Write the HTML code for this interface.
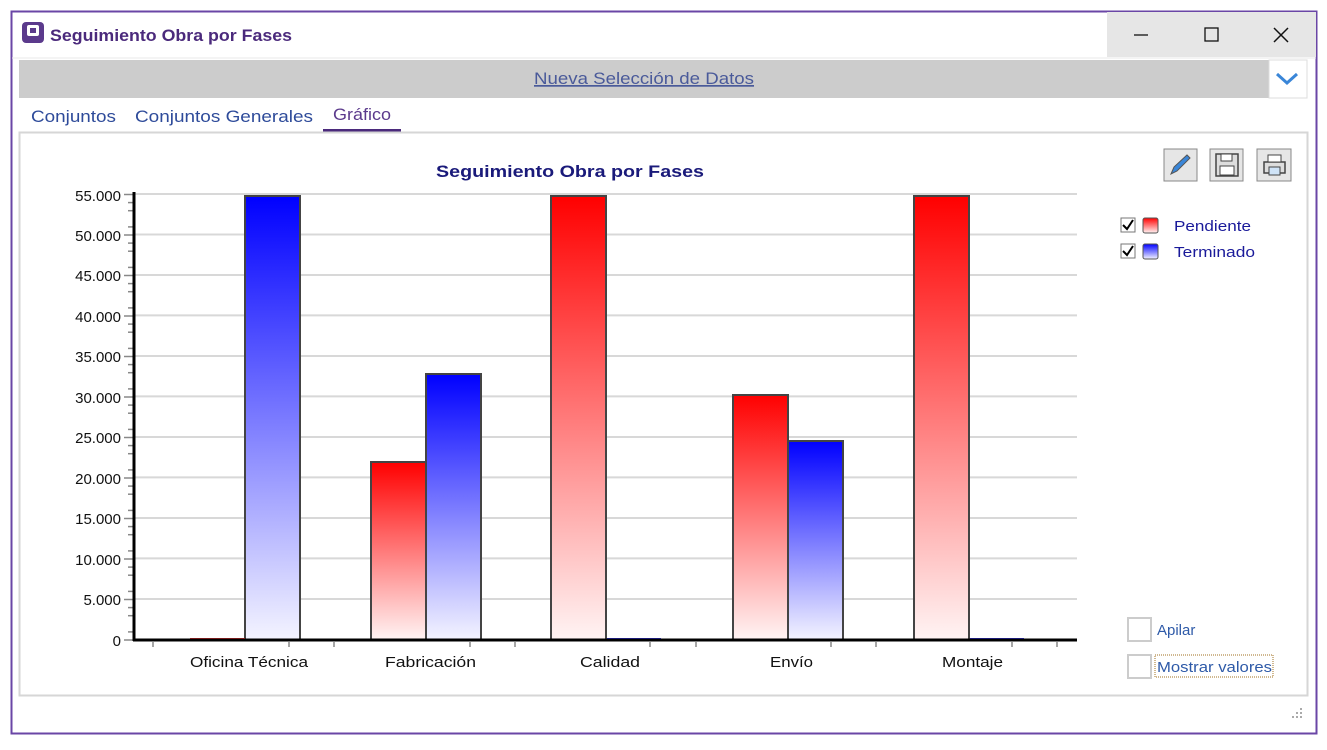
<!DOCTYPE html>
<html><head><meta charset="utf-8"><style>
body{margin:0;width:1327px;height:745px;background:#fff;font-family:"Liberation Sans",sans-serif;overflow:hidden}
</style></head><body>
<svg width="1327" height="745" xmlns="http://www.w3.org/2000/svg" font-family="Liberation Sans, sans-serif">
<defs>
<linearGradient id="r" x1="0" y1="0" x2="0" y2="1"><stop offset="0" stop-color="#ff0000"/><stop offset="1" stop-color="#fff4f4"/></linearGradient>
<linearGradient id="b" x1="0" y1="0" x2="0" y2="1"><stop offset="0" stop-color="#0000ff"/><stop offset="1" stop-color="#f4f4ff"/></linearGradient>
</defs>
<rect x="11.5" y="11.5" width="1305" height="722" fill="#fff" stroke="#6a46a6" stroke-width="2"/>
<rect x="1107" y="12" width="209" height="45" fill="#e6e6e6"/>
<rect x="22" y="22" width="22" height="21" rx="4" fill="#5b3a8c"/>
<rect x="27" y="25" width="12" height="11" rx="2" fill="#fff"/>
<rect x="30" y="28" width="6" height="5" fill="#5b3a8c"/>
<text x="50" y="41" font-size="17" font-weight="bold" fill="#4b2a7c" textLength="242" lengthAdjust="spacingAndGlyphs">Seguimiento Obra por Fases</text>
<line x1="1134" y1="35" x2="1148" y2="35" stroke="#111" stroke-width="1.3"/>
<rect x="1205" y="28" width="13" height="13" fill="none" stroke="#111" stroke-width="1.3"/>
<path d="M1274 28 L1288 42 M1288 28 L1274 42" stroke="#111" stroke-width="1.5"/>
<line x1="12" y1="58" x2="1316" y2="58" stroke="#e8e8e8"/>
<rect x="19" y="60" width="1250" height="38" fill="#cccccc"/>
<rect x="1269" y="60" width="38" height="38" fill="#fff" stroke="#ddd"/>
<path d="M1277 74 L1287 83 L1297 74" fill="none" stroke="#3a86d8" stroke-width="3"/>
<text x="534" y="84" font-size="17" fill="#4a5a9a" text-decoration="underline" textLength="220" lengthAdjust="spacingAndGlyphs">Nueva Selección de Datos</text>
<text x="31" y="122" font-size="17" fill="#2e4b9a" textLength="85" lengthAdjust="spacingAndGlyphs">Conjuntos</text>
<text x="135" y="122" font-size="17" fill="#2e4b9a" textLength="178" lengthAdjust="spacingAndGlyphs">Conjuntos Generales</text>
<text x="333" y="120" font-size="17" fill="#5b3a8c" textLength="58" lengthAdjust="spacingAndGlyphs">Gráfico</text>
<rect x="323" y="129" width="78" height="3" fill="#4b2a7c"/>
<rect x="19.5" y="132.5" width="1288" height="563" fill="#fff" stroke="#d6d6d6" stroke-width="2"/>
<g fill="#e6e6e6" stroke="#888"><rect x="1164" y="149" width="33" height="32"/><rect x="1210" y="149" width="33" height="32"/><rect x="1257" y="149" width="34" height="32"/></g>
<path d="M1171 174 L1174 167 L1187 155 L1190 158 L1177 171 Z" fill="#3a86d8" stroke="#555"/>
<rect x="1216" y="154" width="22" height="22" fill="#ddd" stroke="#444" stroke-width="1.5"/><rect x="1221" y="154" width="11" height="7" fill="#fff" stroke="#444"/><rect x="1220" y="166" width="14" height="9" fill="#fff" stroke="#444"/>
<rect x="1264" y="162" width="21" height="11" fill="#ddd" stroke="#444" stroke-width="1.5"/><rect x="1268" y="155" width="13" height="7" fill="#fff" stroke="#444"/><rect x="1269" y="167" width="11" height="8" fill="#cfe3f7" stroke="#444"/>
<text x="436" y="177" font-size="17" font-weight="bold" fill="#1a1a7a" textLength="268" lengthAdjust="spacingAndGlyphs">Seguimiento Obra por Fases</text>
<g stroke="#d8d8d8" stroke-width="2">
<line x1="134" y1="194" x2="1077" y2="194"/><line x1="134" y1="234.5" x2="1077" y2="234.5"/><line x1="134" y1="275" x2="1077" y2="275"/><line x1="134" y1="315.4" x2="1077" y2="315.4"/><line x1="134" y1="356" x2="1077" y2="356"/><line x1="134" y1="396.4" x2="1077" y2="396.4"/><line x1="134" y1="437" x2="1077" y2="437"/><line x1="134" y1="477.4" x2="1077" y2="477.4"/><line x1="134" y1="518" x2="1077" y2="518"/><line x1="134" y1="558.4" x2="1077" y2="558.4"/><line x1="134" y1="599" x2="1077" y2="599"/>
</g>
<g stroke="#888" stroke-width="1.5" id="ticks"></g>
<g font-size="15" fill="#111" text-anchor="end">
<text x="121" y="201">55.000</text><text x="121" y="241">50.000</text><text x="121" y="281">45.000</text><text x="121" y="322">40.000</text><text x="121" y="362">35.000</text><text x="121" y="403">30.000</text><text x="121" y="443">25.000</text><text x="121" y="484">20.000</text><text x="121" y="524">15.000</text><text x="121" y="565">10.000</text><text x="121" y="605">5.000</text><text x="121" y="646">0</text>
</g>
<g stroke="#444" stroke-width="2">
<rect x="245" y="196" width="55" height="444" fill="url(#b)"/>
<rect x="371" y="462" width="55" height="178" fill="url(#r)"/>
<rect x="426" y="374" width="55" height="266" fill="url(#b)"/>
<rect x="551" y="196" width="55" height="444" fill="url(#r)"/>
<rect x="733" y="395" width="55" height="245" fill="url(#r)"/>
<rect x="788" y="441" width="55" height="199" fill="url(#b)"/>
<rect x="914" y="196" width="55" height="444" fill="url(#r)"/>
</g>
<line x1="190" y1="639" x2="245" y2="639" stroke="#e33" stroke-width="2"/>
<line x1="607" y1="639" x2="661" y2="639" stroke="#33e" stroke-width="2"/>
<line x1="970" y1="639" x2="1024" y2="639" stroke="#33e" stroke-width="2"/>
<line x1="134" y1="192" x2="134" y2="641" stroke="#000" stroke-width="3"/>
<line x1="133" y1="640" x2="1077" y2="640" stroke="#000" stroke-width="3"/>
<g stroke="#888" stroke-width="1.5">
<line x1="153" y1="642" x2="153" y2="647"/><line x1="289" y1="642" x2="289" y2="647"/><line x1="334" y1="642" x2="334" y2="647"/><line x1="470" y1="642" x2="470" y2="647"/><line x1="515" y1="642" x2="515" y2="647"/><line x1="650" y1="642" x2="650" y2="647"/><line x1="696" y1="642" x2="696" y2="647"/><line x1="831" y1="642" x2="831" y2="647"/><line x1="876" y1="642" x2="876" y2="647"/><line x1="1012" y1="642" x2="1012" y2="647"/><line x1="1057" y1="642" x2="1057" y2="647"/>
</g>
<g font-size="15" fill="#111">
<text x="190" y="667" textLength="118" lengthAdjust="spacingAndGlyphs">Oficina Técnica</text><text x="385" y="667" textLength="91" lengthAdjust="spacingAndGlyphs">Fabricación</text><text x="580" y="667" textLength="60" lengthAdjust="spacingAndGlyphs">Calidad</text><text x="770" y="667" textLength="43" lengthAdjust="spacingAndGlyphs">Envío</text><text x="942" y="667" textLength="61" lengthAdjust="spacingAndGlyphs">Montaje</text>
</g>
<rect x="1121" y="218" width="14" height="14" fill="#fff" stroke="#777"/><path d="M1123 225 L1127 229 L1133 220" fill="none" stroke="#000" stroke-width="2"/>
<rect x="1143" y="218" width="15" height="15" rx="2" fill="url(#r)" stroke="#555"/>
<text x="1174" y="231" font-size="15" fill="#1a1a9a" textLength="77" lengthAdjust="spacingAndGlyphs">Pendiente</text>
<rect x="1121" y="244" width="14" height="14" fill="#fff" stroke="#777"/><path d="M1123 251 L1127 255 L1133 246" fill="none" stroke="#000" stroke-width="2"/>
<rect x="1143" y="244" width="15" height="15" rx="2" fill="url(#b)" stroke="#555"/>
<text x="1174" y="257" font-size="15" fill="#1a1a9a" textLength="81" lengthAdjust="spacingAndGlyphs">Terminado</text>
<rect x="1128" y="618" width="23" height="23" fill="#fff" stroke="#ccc" stroke-width="2"/>
<text x="1157" y="635" font-size="15" fill="#2e5aa8">Apilar</text>
<rect x="1128" y="655" width="23" height="23" fill="#fff" stroke="#ccc" stroke-width="2"/>
<rect x="1155" y="655" width="118" height="22" fill="none" stroke="#a07020" stroke-dasharray="1,1"/>
<text x="1157" y="672" font-size="15" fill="#2e5aa8" textLength="115" lengthAdjust="spacingAndGlyphs">Mostrar valores</text>
<g fill="#aaa"><rect x="1300" y="708" width="2" height="2"/><rect x="1300" y="712" width="2" height="2"/><rect x="1300" y="716" width="2" height="2"/><rect x="1296" y="712" width="2" height="2"/><rect x="1296" y="716" width="2" height="2"/><rect x="1292" y="716" width="2" height="2"/></g>
</svg>
<script>
var g=document.getElementById('ticks');var s='';
for(var k=0;k<=55;k++){if(k%5==0)continue;if(k%5==2)continue;var y=640-k*8.1;s+='<line x1="128" y1="'+y+'" x2="133" y2="'+y+'"/>';}
for(var k=0;k<=55;k+=5){var y=640-k*8.1;s+='<line x1="124" y1="'+y+'" x2="133" y2="'+y+'"/>';}
g.innerHTML=s;
</script>
</body></html>
